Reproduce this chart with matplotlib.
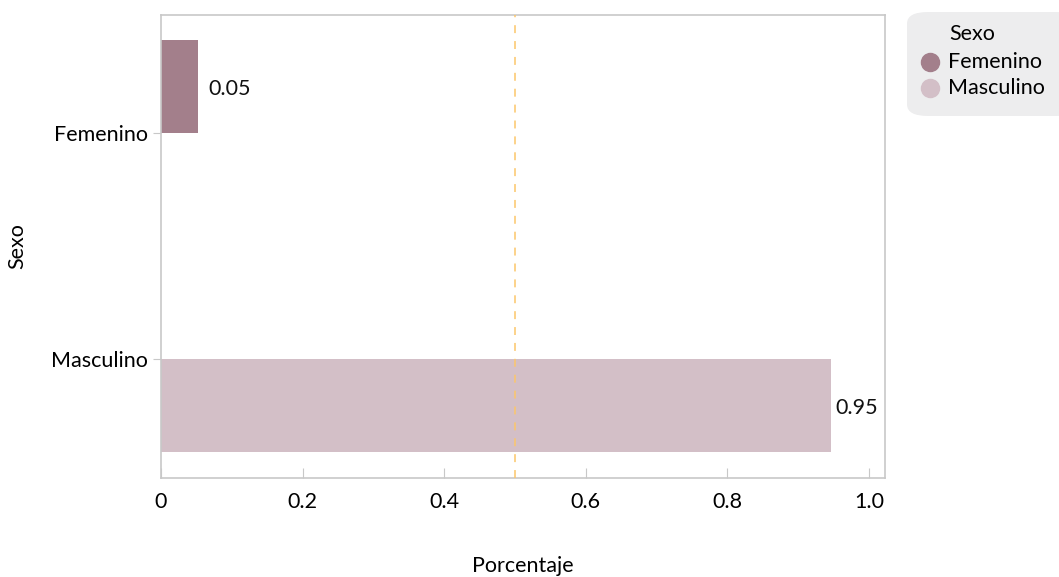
import matplotlib
matplotlib.use("Agg")
import matplotlib.pyplot as plt
from matplotlib.patches import FancyBboxPatch
from matplotlib.lines import Line2D

plt.rcParams['font.family'] = ['Lato', 'DejaVu Sans']

categories = ["Femenino", "Masculino"]
values = [0.052, 0.946]
colors = ["#a37f8b", "#d3bfc7"]
xticks = [0, 0.2, 0.4, 0.6, 0.8, 1.0]
xticklabels = ["0", "0.2", "0.4", "0.6", "0.8", "1.0"]
ref_line = 0.5

FS = 15.5
W, H = 1059, 577
fig = plt.figure(figsize=(W / 100, H / 100), dpi=100)
ax = fig.add_axes([161 / W, 1 - 478 / H, (885 - 161) / W, (478 - 15) / H])

bh = 0.41
# Femenino occupies upper half of band, Masculino lower half
offsets = [-bh, 0.0]
label_pad = [7.5, 3.5]
for i, (c, v, col) in enumerate(zip(categories, values, colors)):
    ax.barh(i + offsets[i], v, height=bh, align='edge', color=col, zorder=2)
    ax.annotate(f"{v:.2f}", (v, i + offsets[i] + bh / 2), xytext=(label_pad[i], -2),
                textcoords='offset points', va='center', ha='left',
                fontsize=FS, color='#111111')

ax.axvline(ref_line, color='#fcc66a', linestyle=(0, (5.2, 5.2)), linewidth=1.1, zorder=3)

ax.set_xlim(0, 1.0226)
ax.set_ylim(1.527, -0.522)
ax.set_yticks(range(len(categories)))
ax.set_yticklabels(categories, fontsize=FS)
ax.set_xticks(xticks)
ax.set_xticklabels(xticklabels, fontsize=FS)
ax.tick_params(axis='x', direction='in', length=7, color='#c8c8c8', pad=10)
ax.tick_params(axis='y', direction='out', length=6, color='#c8c8c8', pad=3.5)
for s in ax.spines.values():
    s.set_color('#c8c8c8')
    s.set_linewidth(1.2)

fig.text(17 / W, 1 - 246 / H, "Sexo", rotation=90, ha='center', va='center', fontsize=FS)
fig.text(523 / W, 1 - 566 / H, "Porcentaje", ha='center', va='center', fontsize=FS)

# legend box
box = FancyBboxPatch((907 / W, 1 - 116 / H), 170 / W, 104 / H,
                     boxstyle="round,pad=0,rounding_size=0.02",
                     transform=fig.transFigure, facecolor='#ededee', edgecolor='none')
fig.patches.append(box)
fig.text(949 / W, 1 - 34 / H, "Sexo", ha='left', va='center', fontsize=FS)
for j, (c, col) in enumerate(zip(categories, colors)):
    y = 1 - (62 + 26 * j) / H
    fig.lines.append(Line2D([930 / W], [y], marker='o', markersize=13, color=col,
                            transform=fig.transFigure, linestyle='none'))
    fig.text(948 / W, y, c, ha='left', va='center', fontsize=FS)

fig.savefig("out.png", dpi=100)
